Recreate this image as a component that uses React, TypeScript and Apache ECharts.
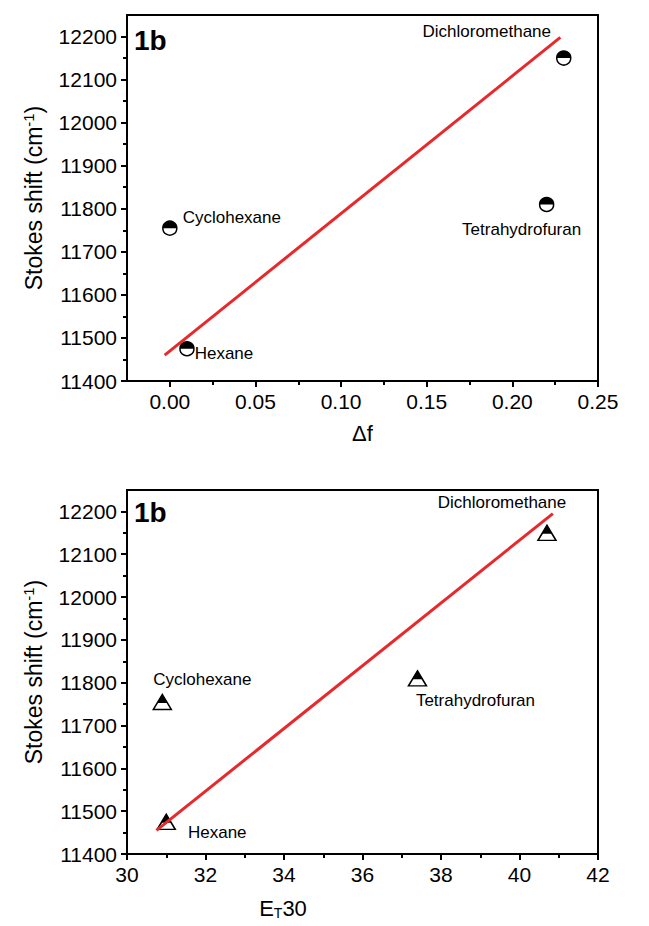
import React, { useEffect, useRef } from "react";
import * as echarts from "echarts";

// ---- data ----
const solvents = ["Cyclohexane", "Hexane", "Tetrahydrofuran", "Dichloromethane"];
const deltaF = [0.0, 0.01, 0.22, 0.23];
const et30 = [30.9, 31.0, 37.4, 40.7];
const stokesShift = [11755, 11475, 11810, 12150];
const fitDeltaFX = [-0.003, 0.228];
const fitDeltaFY = [11460, 12198];
const fitEtX = [30.75, 40.85];
const fitEtY = [11455, 12195];
const deltaFTicks = [0, 0.05, 0.1, 0.15, 0.2, 0.25];
const deltaFMinorTicks = [0.025, 0.075, 0.125, 0.175, 0.225];
const etTicks = [30, 32, 34, 36, 38, 40, 42];
const etMinorTicks = [31, 33, 35, 37, 39, 41];
const stokesTicks = [11400, 11500, 11600, 11700, 11800, 11900, 12000, 12100, 12200];
const stokesMinorTicks = [11450, 11550, 11650, 11750, 11850, 11950, 12050, 12150];

// ---- layout (label offsets relative to markers, px) ----
const topLabelOffsets = [[62, -11], [37, 5], [-25, 25], [-77, -27]];
const botLabelOffsets = [[40, -22], [51, 11], [58, 22], [-45, -30]];

const FONT = "Liberation Sans, Arial, sans-serif";
const RED = "#e8282b";
const CIRCLE_HALF = "path://M0,10 A10,10 0 0 1 20,10 Z";
const TRI = "path://M10,0 L20,17 L0,17 Z";

function mainX(gi: number, min: number, max: number, ticks: number[], fmt: (v: number) => string, name?: string) {
  return {
    type: "value",
    gridIndex: gi,
    position: "bottom",
    min,
    max,
    name: name || "",
    nameLocation: "middle",
    nameGap: 41,
    nameTextStyle: { fontFamily: FONT, fontSize: 22, color: "#000" },
    axisLine: { show: true, onZero: false, lineStyle: { color: "#000", width: 2 } },
    axisTick: { show: true, inside: false, length: 6, customValues: ticks, lineStyle: { color: "#000", width: 2 } },
    axisLabel: { show: true, margin: 10, customValues: ticks, formatter: fmt, fontFamily: FONT, fontSize: 21, color: "#000" },
    splitLine: { show: false },
  };
}
function minorX(gi: number, min: number, max: number, ticks: number[]) {
  return {
    type: "value",
    gridIndex: gi,
    position: "bottom",
    min,
    max,
    axisLine: { show: false, onZero: false },
    axisTick: { show: true, inside: false, length: 4, customValues: ticks, lineStyle: { color: "#000", width: 2 } },
    axisLabel: { show: false },
    splitLine: { show: false },
  };
}
function mainY(gi: number) {
  return {
    type: "value",
    gridIndex: gi,
    position: "left",
    min: 11400,
    max: 12250,
    name: "Stokes shift (cm{sup|-1})",
    nameLocation: "middle",
    nameGap: 78,
    nameTextStyle: {
      fontFamily: FONT,
      fontSize: 23,
      color: "#000",
      lineHeight: 27,
      rich: { sup: { fontFamily: FONT, fontSize: 15, color: "#000", verticalAlign: "top", lineHeight: 27 } },
    },
    axisLine: { show: true, onZero: false, lineStyle: { color: "#000", width: 2 } },
    axisTick: { show: true, inside: false, length: 6, customValues: stokesTicks, lineStyle: { color: "#000", width: 2 } },
    axisLabel: {
      show: true,
      margin: 10,
      customValues: stokesTicks,
      formatter: (v: number) => String(v),
      fontFamily: FONT,
      fontSize: 21,
      color: "#000",
    },
    splitLine: { show: false },
  };
}
function minorY(gi: number) {
  return {
    type: "value",
    gridIndex: gi,
    position: "left",
    min: 11400,
    max: 12250,
    axisLine: { show: false, onZero: false },
    axisTick: { show: true, inside: false, length: 4, customValues: stokesMinorTicks, lineStyle: { color: "#000", width: 2 } },
    axisLabel: { show: false },
    splitLine: { show: false },
  };
}

function pointData(xs: number[], offsets: number[][], withLabel: boolean) {
  return xs.map((x, i) => ({
    value: [x, stokesShift[i]],
    name: solvents[i],
    label: withLabel
      ? {
          show: true,
          position: "inside",
          offset: offsets[i],
          formatter: solvents[i],
          fontFamily: FONT,
          fontSize: 17,
          color: "#000",
        }
      : { show: false },
  }));
}

export default function App() {
  const ref = useRef<HTMLDivElement>(null);
  useEffect(() => {
    if (!ref.current) return;
    const chart = echarts.init(ref.current, null, { renderer: "svg" });
    const grids = [
      { left: 127, top: 15, width: 471, height: 366 },
      { left: 127, top: 490, width: 471, height: 364 },
    ].map((g) => ({ ...g, show: true, borderColor: "#000", borderWidth: 2, backgroundColor: "transparent" }));

    const option: any = {
      animation: false,
      backgroundColor: "#fff",
      grid: grids,
      xAxis: [
        mainX(0, -0.025, 0.25, deltaFTicks, (v: number) => v.toFixed(2), "Δf"),
        minorX(0, -0.025, 0.25, deltaFMinorTicks),
        mainX(1, 30, 42, etTicks, (v: number) => String(v)),
        minorX(1, 30, 42, etMinorTicks),
      ],
      yAxis: [mainY(0), minorY(0), mainY(1), minorY(1)],
      series: [
        {
          type: "scatter",
          xAxisIndex: 0,
          yAxisIndex: 0,
          symbol: "circle",
          symbolSize: 14,
          itemStyle: { color: "#fff", borderColor: "#000", borderWidth: 1.5, opacity: 1 },
          data: pointData(deltaF, topLabelOffsets, true),
          z: 2,
        },
        {
          type: "scatter",
          xAxisIndex: 0,
          yAxisIndex: 0,
          symbol: CIRCLE_HALF,
          symbolSize: [14, 7],
          symbolOffset: [0, "-50%"],
          itemStyle: { color: "#000", opacity: 1 },
          data: pointData(deltaF, topLabelOffsets, false),
          z: 3,
        },
        {
          type: "line",
          xAxisIndex: 0,
          yAxisIndex: 0,
          showSymbol: false,
          symbol: "none",
          lineStyle: { color: RED, width: 3 },
          data: fitDeltaFX.map((x, i) => [x, fitDeltaFY[i]]),
          z: 4,
        },
        {
          type: "scatter",
          xAxisIndex: 2,
          yAxisIndex: 2,
          symbol: TRI,
          symbolSize: [18, 15],
          itemStyle: { color: "#fff", borderColor: "#000", borderWidth: 1.5, opacity: 1 },
          data: pointData(et30, botLabelOffsets, true),
          z: 2,
        },
        {
          type: "scatter",
          xAxisIndex: 2,
          yAxisIndex: 2,
          symbol: TRI,
          symbolSize: [10, 8.5],
          symbolOffset: [0, -3.3],
          itemStyle: { color: "#000", opacity: 1 },
          data: pointData(et30, botLabelOffsets, false),
          z: 3,
        },
        {
          type: "line",
          xAxisIndex: 2,
          yAxisIndex: 2,
          showSymbol: false,
          symbol: "none",
          lineStyle: { color: RED, width: 3 },
          data: fitEtX.map((x, i) => [x, fitEtY[i]]),
          z: 4,
        },
      ],
      graphic: [
        {
          type: "text",
          x: 134,
          y: 40,
          style: { text: "1b", fontFamily: FONT, fontSize: 28, fontWeight: "bold", fill: "#000", align: "left", verticalAlign: "middle" },
        },
        {
          type: "text",
          x: 134,
          y: 512,
          style: { text: "1b", fontFamily: FONT, fontSize: 28, fontWeight: "bold", fill: "#000", align: "left", verticalAlign: "middle" },
        },
        {
          type: "text",
          x: 283,
          y: 908,
          style: {
            text: "E{sub|T}30",
            fontFamily: FONT,
            fontSize: 22,
            fill: "#000",
            align: "center",
            verticalAlign: "middle",
            lineHeight: 24,
            rich: { sub: { fontFamily: FONT, fontSize: 14, fill: "#000", verticalAlign: "bottom", lineHeight: 24 } },
          },
        },
      ],
    };
    chart.setOption(option);
    return () => chart.dispose();
  }, []);
  return (
    <div
      ref={ref}
      style={{ position: "fixed", left: 0, top: 0, width: 649, height: 926, background: "#fff" }}
    />
  );
}
